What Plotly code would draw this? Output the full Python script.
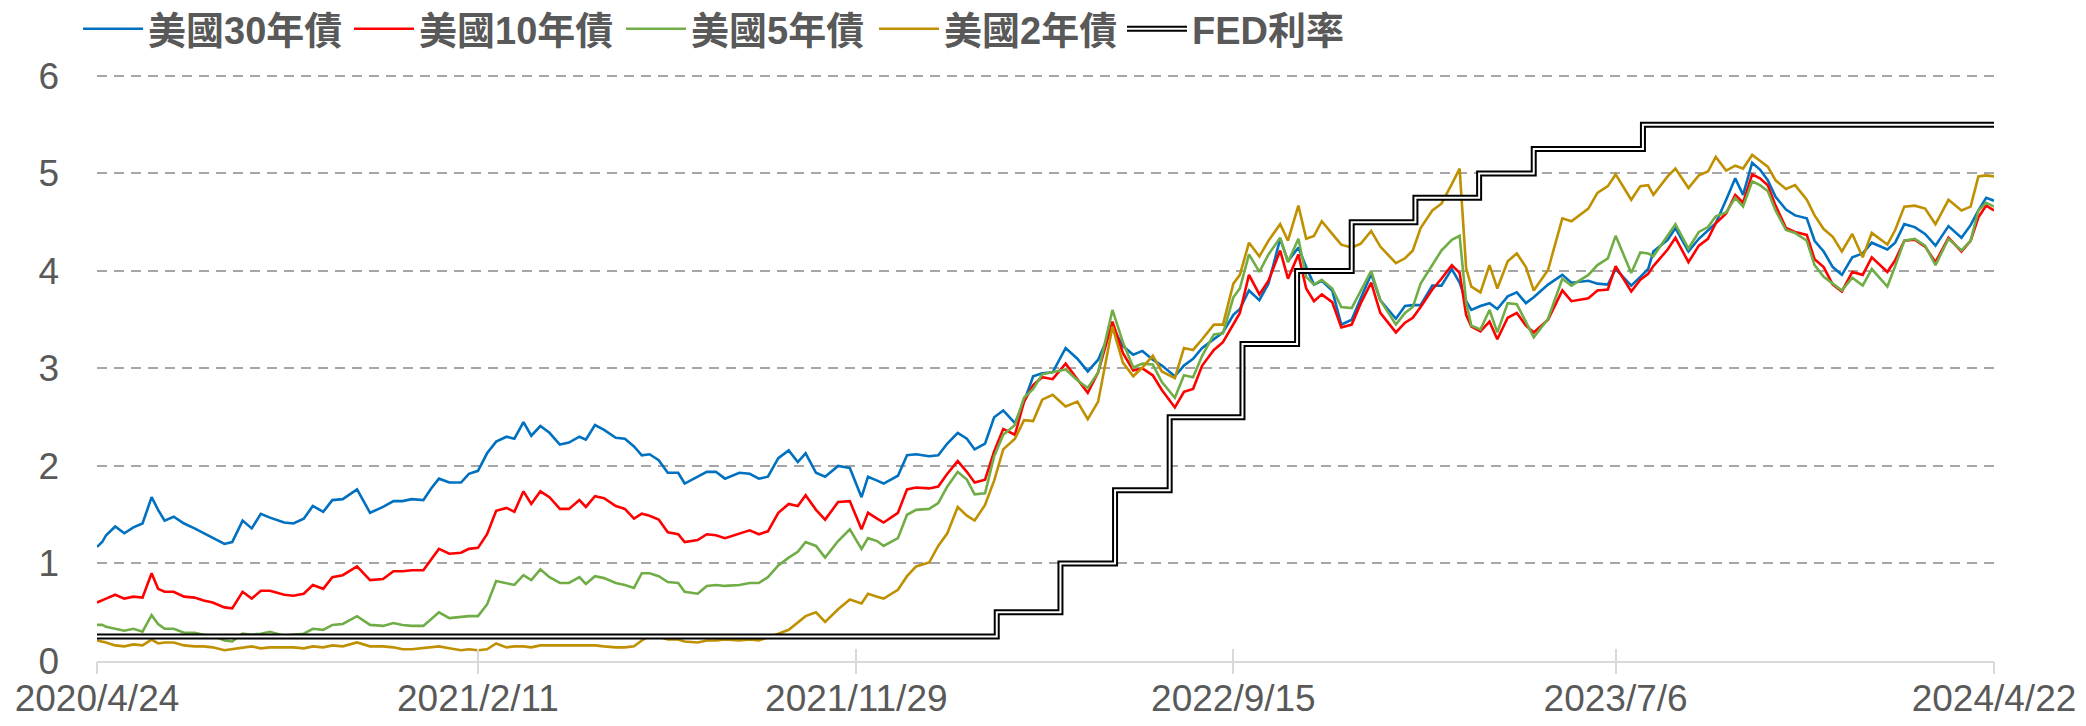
import plotly.graph_objects as go

dates = [
    "2020-04-24","2020-04-28","2020-05-01","2020-05-08","2020-05-15","2020-05-22","2020-05-29",
    "2020-06-05","2020-06-10","2020-06-15","2020-06-22","2020-06-30","2020-07-08","2020-07-15","2020-07-22","2020-07-31",
    "2020-08-06","2020-08-14","2020-08-21","2020-08-28","2020-09-04","2020-09-15","2020-09-22","2020-09-30",
    "2020-10-07","2020-10-15","2020-10-22","2020-10-30","2020-11-10","2020-11-20","2020-11-30","2020-12-08","2020-12-15","2020-12-22","2020-12-31",
    "2021-01-06","2021-01-12","2021-01-20","2021-01-29","2021-02-04","2021-02-11","2021-02-18","2021-02-25","2021-03-05","2021-03-11","2021-03-18","2021-03-24","2021-03-31",
    "2021-04-07","2021-04-15","2021-04-22","2021-04-30","2021-05-05","2021-05-12","2021-05-19","2021-05-28","2021-06-04","2021-06-11","2021-06-17","2021-06-23","2021-06-30",
    "2021-07-07","2021-07-15","2021-07-20","2021-07-30","2021-08-06","2021-08-13","2021-08-20","2021-08-31","2021-09-08","2021-09-15","2021-09-22","2021-09-30",
    "2021-10-08","2021-10-15","2021-10-21","2021-10-29","2021-11-05","2021-11-15","2021-11-24","2021-12-03","2021-12-08","2021-12-15","2021-12-20","2021-12-31",
    "2022-01-07","2022-01-14","2022-01-24","2022-01-31","2022-02-07","2022-02-15","2022-02-22","2022-02-28","2022-03-08","2022-03-15","2022-03-22","2022-03-31",
    "2022-04-07","2022-04-14","2022-04-21","2022-04-29","2022-05-09","2022-05-18","2022-05-26","2022-06-03","2022-06-14","2022-06-22","2022-06-30",
    "2022-07-07","2022-07-15","2022-07-22","2022-08-01","2022-08-08","2022-08-15","2022-08-22","2022-08-31","2022-09-07","2022-09-15","2022-09-20","2022-09-27",
    "2022-10-05","2022-10-12","2022-10-21","2022-10-27","2022-11-04","2022-11-10","2022-11-16","2022-11-22","2022-11-30","2022-12-07","2022-12-15","2022-12-22","2022-12-30",
    "2023-01-06","2023-01-18","2023-01-25","2023-01-31","2023-02-06","2023-02-15","2023-02-22","2023-03-02","2023-03-08","2023-03-13","2023-03-17","2023-03-24","2023-03-31",
    "2023-04-06","2023-04-14","2023-04-21","2023-04-28","2023-05-04","2023-05-15","2023-05-26","2023-06-02","2023-06-15","2023-06-22","2023-06-30",
    "2023-07-06","2023-07-18","2023-07-25","2023-07-31","2023-08-04","2023-08-15","2023-08-21","2023-08-31","2023-09-08","2023-09-15","2023-09-21","2023-09-29",
    "2023-10-06","2023-10-12","2023-10-19","2023-10-25","2023-10-31","2023-11-06","2023-11-14","2023-11-21","2023-11-30","2023-12-06","2023-12-13","2023-12-20","2023-12-27",
    "2024-01-04","2024-01-12","2024-01-19","2024-01-31","2024-02-06","2024-02-13","2024-02-21","2024-02-29","2024-03-08","2024-03-18","2024-03-28","2024-04-04","2024-04-10","2024-04-16","2024-04-22",
]

us30 = [
    1.17,1.22,1.29,1.38,1.31,1.37,1.41,
    1.68,1.55,1.44,1.48,1.41,1.36,1.31,1.26,1.20,
    1.22,1.44,1.36,1.51,1.47,1.42,1.41,1.46,
    1.59,1.53,1.65,1.66,1.76,1.52,1.58,1.64,1.64,1.66,1.65,
    1.77,1.87,1.83,1.83,1.92,1.95,2.13,2.25,2.30,2.28,2.45,2.31,2.41,
    2.34,2.22,2.24,2.30,2.27,2.42,2.37,2.29,2.28,2.20,2.11,2.12,2.06,
    1.93,1.93,1.82,1.89,1.94,1.94,1.87,1.93,1.92,1.87,1.89,2.08,
    2.16,2.04,2.13,1.93,1.89,2.00,1.98,1.68,1.89,1.85,1.82,1.90,
    2.11,2.12,2.10,2.11,2.23,2.34,2.28,2.17,2.23,2.50,2.57,2.44,
    2.66,2.92,2.95,2.96,3.21,3.10,2.97,3.09,3.43,3.23,3.14,
    3.18,3.09,3.03,2.92,3.03,3.10,3.21,3.30,3.37,3.55,3.61,3.80,
    3.70,3.87,4.33,4.10,4.24,4.04,3.86,3.90,3.80,3.45,3.50,3.72,3.97,
    3.70,3.51,3.64,3.65,3.65,3.85,3.85,4.02,3.88,3.69,3.60,3.64,3.67,
    3.61,3.74,3.78,3.67,3.73,3.86,3.96,3.88,3.90,3.87,3.86,
    4.02,3.85,3.94,4.02,4.20,4.32,4.44,4.20,4.33,4.42,4.49,4.73,
    4.95,4.78,5.11,5.04,4.93,4.76,4.63,4.57,4.54,4.31,4.20,4.04,3.96,
    4.14,4.18,4.29,4.22,4.29,4.48,4.45,4.38,4.26,4.46,4.34,4.47,4.62,4.75,4.72,
]

us10 = [
    0.60,0.62,0.64,0.68,0.64,0.66,0.65,
    0.90,0.74,0.71,0.71,0.66,0.65,0.62,0.60,0.55,
    0.54,0.71,0.64,0.72,0.72,0.68,0.67,0.69,
    0.78,0.74,0.86,0.88,0.97,0.83,0.84,0.92,0.92,0.93,0.93,
    1.04,1.15,1.10,1.11,1.15,1.16,1.30,1.54,1.57,1.53,1.74,1.61,1.74,
    1.68,1.56,1.56,1.65,1.58,1.69,1.67,1.59,1.56,1.46,1.51,1.49,1.45,
    1.32,1.30,1.22,1.24,1.30,1.29,1.26,1.31,1.34,1.30,1.33,1.52,
    1.61,1.59,1.70,1.55,1.45,1.63,1.64,1.35,1.52,1.46,1.42,1.52,
    1.76,1.78,1.77,1.79,1.92,2.05,1.94,1.83,1.86,2.15,2.38,2.32,
    2.66,2.83,2.91,2.89,3.05,2.89,2.75,2.96,3.48,3.16,2.98,
    3.00,2.93,2.78,2.60,2.76,2.79,3.03,3.19,3.27,3.45,3.57,3.96,
    3.76,3.90,4.21,3.92,4.17,3.82,3.69,3.76,3.68,3.42,3.45,3.67,3.88,
    3.57,3.37,3.47,3.52,3.63,3.81,3.92,4.06,3.98,3.55,3.43,3.38,3.48,
    3.30,3.52,3.57,3.44,3.37,3.50,3.80,3.69,3.72,3.80,3.81,
    4.05,3.79,3.91,3.97,4.05,4.22,4.34,4.09,4.26,4.33,4.49,4.59,
    4.78,4.70,4.99,4.95,4.88,4.67,4.44,4.40,4.37,4.12,4.04,3.86,3.79,
    3.99,3.96,4.14,3.99,4.11,4.31,4.32,4.25,4.09,4.34,4.20,4.31,4.55,4.67,4.62,
]

us5 = [
    0.37,0.37,0.35,0.33,0.31,0.33,0.30,
    0.47,0.38,0.33,0.33,0.29,0.29,0.27,0.26,0.21,
    0.20,0.28,0.27,0.28,0.30,0.26,0.27,0.28,
    0.33,0.32,0.37,0.38,0.46,0.37,0.36,0.39,0.37,0.36,0.36,
    0.43,0.50,0.44,0.45,0.46,0.46,0.58,0.82,0.80,0.78,0.88,0.83,0.94,
    0.86,0.80,0.80,0.86,0.79,0.87,0.85,0.80,0.78,0.75,0.90,0.90,0.87,
    0.81,0.80,0.71,0.69,0.77,0.78,0.77,0.78,0.80,0.80,0.86,0.98,
    1.06,1.12,1.22,1.18,1.06,1.23,1.35,1.15,1.26,1.23,1.18,1.26,
    1.50,1.55,1.56,1.62,1.79,1.94,1.86,1.71,1.72,2.10,2.32,2.42,
    2.70,2.79,2.94,2.96,2.99,2.88,2.80,2.96,3.60,3.27,3.01,
    3.05,3.04,2.86,2.70,2.93,2.91,3.13,3.35,3.36,3.73,3.82,4.17,
    3.99,4.17,4.34,4.09,4.33,3.94,3.86,3.91,3.82,3.63,3.62,3.80,4.00,
    3.70,3.45,3.57,3.63,3.87,4.06,4.21,4.32,4.36,3.68,3.44,3.40,3.60,
    3.37,3.67,3.66,3.48,3.32,3.51,3.92,3.85,3.96,4.06,4.13,
    4.36,3.98,4.19,4.18,4.15,4.36,4.48,4.23,4.40,4.45,4.56,4.60,
    4.75,4.66,4.92,4.88,4.82,4.62,4.42,4.39,4.31,4.06,3.94,3.87,3.80,
    3.93,3.85,4.02,3.84,4.05,4.31,4.33,4.26,4.06,4.33,4.21,4.31,4.62,4.70,4.66,
]

us2 = [
    0.21,0.20,0.19,0.16,0.15,0.17,0.16,
    0.22,0.18,0.19,0.19,0.16,0.15,0.15,0.14,0.11,
    0.12,0.14,0.15,0.13,0.14,0.14,0.14,0.13,
    0.15,0.14,0.16,0.15,0.19,0.15,0.15,0.14,0.12,0.12,0.13,
    0.14,0.15,0.13,0.11,0.12,0.11,0.12,0.18,0.14,0.15,0.15,0.14,0.16,
    0.16,0.16,0.16,0.16,0.16,0.16,0.15,0.14,0.14,0.15,0.21,0.26,0.25,
    0.22,0.22,0.20,0.19,0.21,0.21,0.22,0.21,0.22,0.21,0.24,0.28,
    0.32,0.40,0.46,0.50,0.40,0.53,0.63,0.59,0.69,0.66,0.64,0.73,
    0.87,0.97,1.01,1.18,1.31,1.58,1.49,1.44,1.60,1.85,2.17,2.28,
    2.47,2.46,2.68,2.73,2.61,2.66,2.48,2.66,3.43,3.06,2.92,
    3.01,3.13,2.97,2.90,3.21,3.19,3.30,3.45,3.45,3.87,3.96,4.29,
    4.15,4.31,4.48,4.31,4.67,4.33,4.36,4.51,4.38,4.27,4.24,4.28,4.41,
    4.25,4.08,4.13,4.21,4.44,4.62,4.69,4.89,5.05,4.03,3.84,3.78,4.06,
    3.82,4.10,4.18,4.04,3.80,4.01,4.54,4.51,4.64,4.80,4.87,
    4.99,4.73,4.87,4.88,4.78,4.97,5.05,4.85,4.98,5.02,5.17,5.03,
    5.08,5.05,5.19,5.13,5.07,4.93,4.84,4.88,4.73,4.57,4.43,4.35,4.20,
    4.38,4.14,4.39,4.27,4.42,4.66,4.67,4.64,4.48,4.73,4.62,4.66,4.97,4.98,4.97,
]

fed_dates = ["2020-04-24","2022-03-17","2022-05-05","2022-06-16","2022-07-28","2022-09-22",
             "2022-11-03","2022-12-15","2023-02-02","2023-03-23","2023-05-04","2023-07-27","2024-04-22"]
fed_rate = [0.25,0.50,1.00,1.75,2.50,3.25,4.00,4.50,4.75,5.00,5.25,5.50,5.50]

tick_dates = ["2020-04-24","2021-02-11","2021-11-29","2022-09-15","2023-07-06","2024-04-22"]
tick_text = ["2020/4/24","2021/2/11","2021/11/29","2022/9/15","2023/7/6","2024/4/22"]

assert len(dates) == len(us30) == len(us10) == len(us5) == len(us2), (
    len(dates), len(us30), len(us10), len(us5), len(us2))

series = [
    ("美國30年債", us30, "#0070C0", "legend"),
    ("美國10年債", us10, "#FF0000", "legend2"),
    ("美國5年債", us5, "#70AD47", "legend3"),
    ("美國2年債", us2, "#BF9000", "legend4"),
]

fig = go.Figure()
for name, vals, color, lg in series:
    fig.add_trace(go.Scatter(x=dates, y=vals, name=name, mode="lines", legend=lg,
                             line=dict(color=color, width=2.6)))

fig.add_trace(go.Scatter(x=fed_dates, y=fed_rate, name="FED利率", mode="lines", legend="legend5",
                         line=dict(color="#000000", width=6, shape="hv")))
fig.add_trace(go.Scatter(x=fed_dates, y=fed_rate, name="\u2009", mode="lines", legend="legend6",
                         line=dict(color="#FFFFFF", width=2, shape="hv"), hoverinfo="skip"))

# helper traces for the extra x-axes that draw the crossing tick marks
for ax in ("x2", "x3"):
    fig.add_trace(go.Scatter(x=[tick_dates[0], tick_dates[-1]], y=[None, None], xaxis=ax,
                             showlegend=False, hoverinfo="skip"))

font_main = "Liberation Sans, Arial, Noto Sans CJK TC, sans-serif"
legend_font = dict(family="Liberation Sans, Noto Sans CJK TC, sans-serif", size=38,
                   color="#595959", weight="bold")
rng = ["2020-04-24", "2024-04-22"]


def mk_legend(xpx):
    return dict(orientation="h", xref="container", yref="container",
                x=xpx / 2086, y=1 - 29 / 726, xanchor="left", yanchor="middle",
                font=legend_font, itemwidth=60, bgcolor="rgba(0,0,0,0)", borderwidth=0)


legend_x = [78, 349, 621, 874, 1122]


def tick_axis(direction):
    return dict(type="date", range=rng, overlaying="x", anchor="y", side="bottom",
                tickmode="array", tickvals=tick_dates, showticklabels=False,
                showgrid=False, zeroline=False, showline=False,
                ticks=direction, ticklen=12, tickwidth=2, tickcolor="#D9D9D9")


fig.update_layout(
    width=2086, height=726,
    margin=dict(l=97, r=92, t=74, b=65, autoexpand=False),
    paper_bgcolor="white", plot_bgcolor="white",
    font=dict(family=font_main, color="#595959", size=37),
    showlegend=True,
    legend=mk_legend(legend_x[0]),
    legend2=mk_legend(legend_x[1]),
    legend3=mk_legend(legend_x[2]),
    legend4=mk_legend(legend_x[3]),
    legend5=mk_legend(legend_x[4]),
    legend6=mk_legend(legend_x[4]),
    xaxis=dict(type="date", range=rng, tickmode="array", tickvals=tick_dates, ticktext=tick_text,
               showgrid=False, zeroline=False, showline=True, linecolor="#D9D9D9", linewidth=2,
               ticks="", ticklabelstandoff=4,
               tickfont=dict(size=37, color="#595959"), fixedrange=True),
    xaxis2=tick_axis("inside"),
    xaxis3=tick_axis("outside"),
    yaxis=dict(range=[0, 6.02], tickmode="array", tickvals=[0, 1, 2, 3, 4, 5, 6],
               ticktext=["0", "1", "2", "3", "4", "5", "6"],
               showgrid=True, gridcolor="#A6A6A6", gridwidth=2, griddash="10px,7px",
               zeroline=False, showline=False, ticks="", ticklabelstandoff=37,
               tickfont=dict(size=37, color="#595959")),
)

fig.write_html("out.html", config={"displayModeBar": False},
               post_script="document.body.style.margin='0';")
